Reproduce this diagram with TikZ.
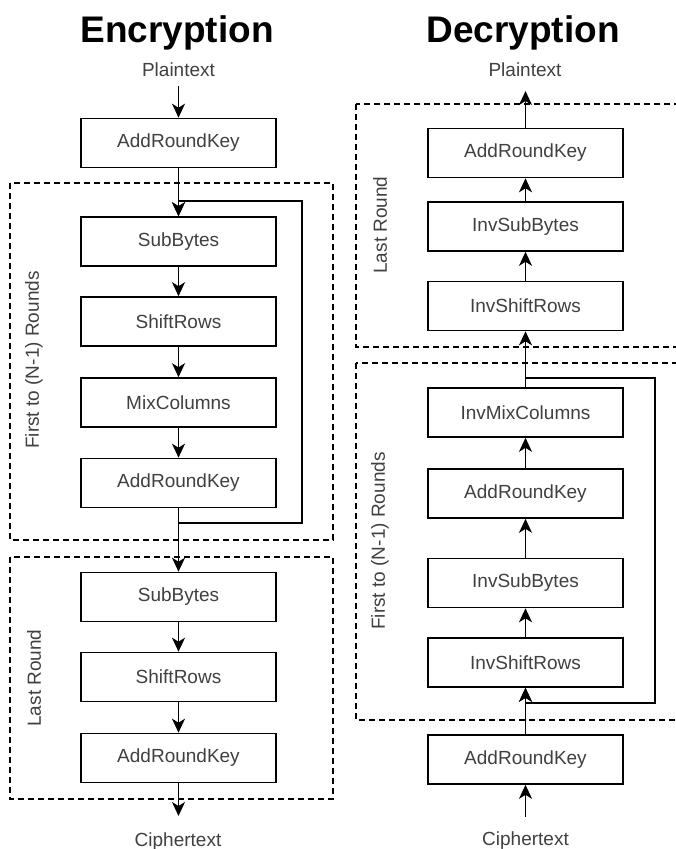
\documentclass[tikz,border=0pt]{standalone}
\usepackage{fontspec}
\setmainfont{Liberation Sans}
\usetikzlibrary{arrows.meta}
\definecolor{txt}{HTML}{404040}
\tikzset{
  box/.style={draw, line width=1.6pt, minimum width=195pt, minimum height=49pt, inner sep=0pt,
              text=txt, font=\fontsize{19}{22}\selectfont},
  lbl/.style={text=txt, font=\fontsize{19}{22}\selectfont, inner sep=0pt},
  ttl/.style={font=\fontsize{37}{44}\selectfont\bfseries, inner sep=0pt},
  arr/.style={line width=1.6pt, -{Stealth[length=14pt,width=13pt,inset=4pt]}},
  ln/.style={line width=1.6pt},
  dbox/.style={line width=1.4pt, dash pattern=on 6pt off 4pt}
}
\begin{document}
\begin{tikzpicture}[x=1pt,y=-1pt]
\useasboundingbox (0,0) rectangle (676,849);
\clip (0,0) rectangle (676,849);
\fill[white] (0,0) rectangle (676,849);

% ---------------- Encryption ----------------
\node[ttl, anchor=base] (etitle) at (177,42) {Encryption};
\node[lbl, anchor=base] (ept) at (178.5,76) {Plaintext};
\coordinate (eptarr) at (178.5,86);

\draw[dbox] (10,183) rectangle (333,540);
\draw[dbox] (10,557) rectangle (333,799);
\node[lbl, rotate=90] (elab1) at (34,360) {First to (N-1) Rounds};
\node[lbl, rotate=90] (elab2) at (34,678) {Last Round};

\node[box] (e0) at (178.5,143) {AddRoundKey};
\node[box] (e1) at (178.5,241.5) {SubBytes};
\node[box] (e2) at (178.5,321.5) {ShiftRows};
\node[box] (e3) at (178.5,402.5) {MixColumns};
\node[box] (e4) at (178.5,483) {AddRoundKey};
\node[box] (e5) at (178.5,597) {SubBytes};
\node[box] (e6) at (178.5,677) {ShiftRows};
\node[box] (e7) at (178.5,758) {AddRoundKey};

\node[lbl, anchor=base] (ect) at (178,846) {Ciphertext};
\coordinate (ectarr) at (178.5,816);

\draw[arr] (eptarr) -- (e0.north);
\draw[arr] (e0.south) -- (e1.north);
\draw[arr] (e1.south) -- (e2.north);
\draw[arr] (e2.south) -- (e3.north);
\draw[arr] (e3.south) -- (e4.north);
\draw[arr] (e4.south) -- (e5.north);
\draw[arr] (e5.south) -- (e6.north);
\draw[arr] (e6.south) -- (e7.north);
\draw[arr] (e7.south) -- (ectarr);
\coordinate (eloopA) at (302,523);
\coordinate (eloopB) at (302,201);
\draw[arr] (e4.south) |- (eloopA) -- (eloopB) -| (e1.north);

% ---------------- Decryption ----------------
\node[ttl, anchor=base] (dtitle) at (523,42) {Decryption};
\node[lbl, anchor=base] (dpt) at (525,76) {Plaintext};
\coordinate (dptarr) at (525.5,91);

\draw[dbox] (356,104) rectangle (700,347);
\draw[dbox] (356,363) rectangle (700,720);
\node[lbl, rotate=90] (dlab1) at (380,225) {Last Round};
\node[lbl, rotate=90] (dlab2) at (380,541) {First to (N-1) Rounds};

\node[box] (d0) at (525.5,153) {AddRoundKey};
\node[box] (d1) at (525.5,226.5) {InvSubBytes};
\node[box] (d2) at (525.5,306) {InvShiftRows};
\node[box] (d3) at (525.5,412.5) {InvMixColumns};
\node[box] (d4) at (525.5,493.5) {AddRoundKey};
\node[box] (d5) at (525.5,583) {InvSubBytes};
\node[box] (d6) at (525.5,662.5) {InvShiftRows};
\node[box] (d7) at (525.5,759.5) {AddRoundKey};

\node[lbl, anchor=base] (dct) at (525.5,845) {Ciphertext};
\coordinate (dctarr) at (525.5,817);

\draw[arr] (dctarr) -- (d7.south);
\draw[arr] (d7.north) -- (d6.south);
\draw[arr] (d6.north) -- (d5.south);
\draw[arr] (d5.north) -- (d4.south);
\draw[arr] (d4.north) -- (d3.south);
\draw[arr] (d3.north) -- (d2.south);
\draw[arr] (d2.north) -- (d1.south);
\draw[arr] (d1.north) -- (d0.south);
\draw[arr] (d0.north) -- (dptarr);
\coordinate (dloopA) at (655,378);
\coordinate (dloopB) at (655,703);
\draw[arr] (d3.north) |- (dloopA) -- (dloopB) -| (d6.south);
\end{tikzpicture}
\end{document}
